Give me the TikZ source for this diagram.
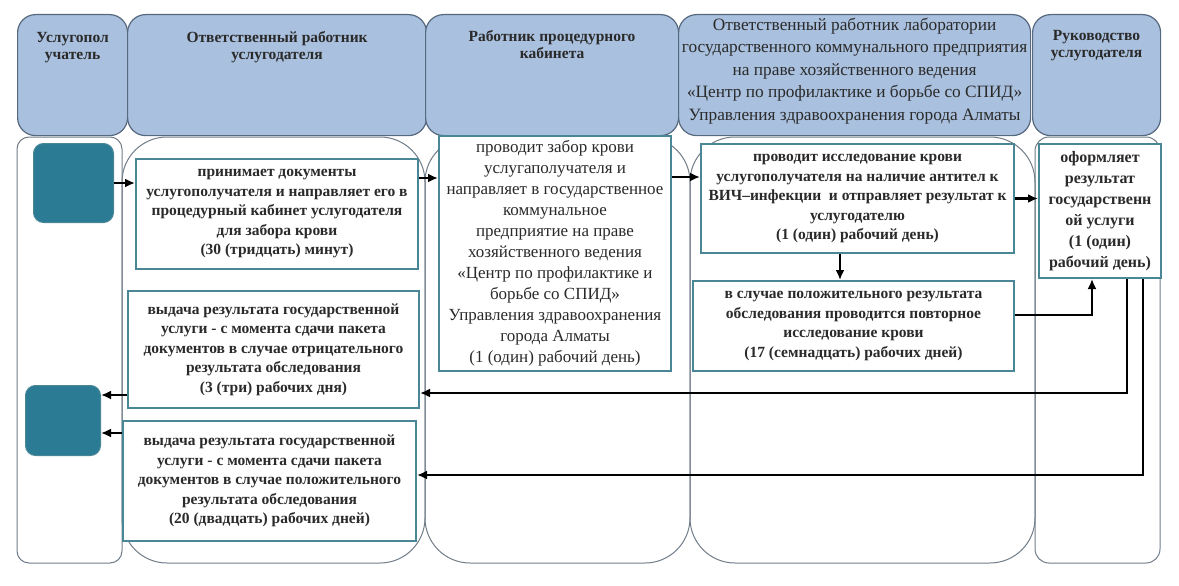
\documentclass[tikz,border=0pt]{standalone}
\usepackage{fontspec}
\setmainfont{Liberation Serif}
\usetikzlibrary{arrows.meta}
\definecolor{hdrfill}{HTML}{A9C0DE}
\definecolor{hdrline}{HTML}{56697F}
\definecolor{tealbox}{HTML}{2C7B94}
\definecolor{boxline}{HTML}{4A8796}
\definecolor{laneline}{HTML}{707C88}
\definecolor{txt}{HTML}{2A2A2A}
\begin{document}
\begin{tikzpicture}[>={Latex[length=10pt,width=9pt]}, x=1pt, y=-1pt,
    hdr/.style={draw=hdrline, fill=hdrfill, line width=1.2pt, rounded corners=18pt,
        anchor=north west, minimum height=121pt, inner sep=0pt},
    hdrtxt/.style={text=txt, align=center, inner sep=0pt, font=\fontsize{15.5}{17.5}\selectfont\bfseries},
    lane/.style={draw=laneline, line width=1pt},
    tealnode/.style={draw=boxline, fill=tealbox, line width=1pt, rounded corners=10pt,
        anchor=north west, inner sep=0pt},
    procbox/.style={draw=boxline, fill=white, line width=2pt, anchor=north west,
        inner sep=0pt, align=center, text=txt, font=\fontsize{15.5}{19.5}\selectfont\bfseries},
    flow/.style={->, line width=2.2pt}]
\useasboundingbox (0,0) rectangle (1179,586);

% lanes
\draw[lane, rounded corners=12pt] (17,137) rectangle (122,563);
\draw[lane, rounded corners=45pt] (122,137) rectangle (425,563);
\draw[lane, rounded corners=45pt] (425,137) rectangle (690,563);
\draw[lane, rounded corners=45pt] (690,137) rectangle (1035,563);
\draw[lane, rounded corners=14pt] (1035,137) rectangle (1160,563);

% headers
\node[hdr, minimum width=110pt] (h1) at (17,14) {};
\node[hdr, minimum width=299pt] (h2) at (127,14) {};
\node[hdr, minimum width=253pt] (h3) at (425,14) {};
\node[hdr, minimum width=352pt] (h4) at (678,14) {};
\node[hdr, minimum width=128pt] (h5) at (1032,14) {};
\node[hdrtxt, anchor=north] (h1t) at ([yshift=-18pt]h1.north) {Услугопол\\учатель};
\node[hdrtxt, anchor=north] (h2t) at ([yshift=-17pt]h2.north) {Ответственный работник\\услугодателя};
\node[hdrtxt, anchor=north] (h3t) at ([yshift=-16pt]h3.north) {Работник процедурного\\кабинета};
\node[hdrtxt, anchor=center, font=\fontsize{17.3}{22.5}\selectfont] (h4t) at ([yshift=4pt]h4.center)
    {Ответственный работник лаборатории\\государственного коммунального предприятия\\на праве хозяйственного ведения\\«Центр по профилактике и борьбе со СПИД»\\Управления здравоохранения города Алматы};
\node[hdrtxt, anchor=north] (h5t) at ([yshift=-16pt]h5.north) {Руководство\\услугодателя};

% steps
\node[tealnode, minimum width=80pt, minimum height=79pt] (t1) at (33,143) {};
\node[tealnode, minimum width=75pt, minimum height=70pt] (t2) at (25,385) {};

\node[procbox, minimum width=282pt, minimum height=110pt] (b1) at (135,158)
    {принимает документы\\услугополучателя и направляет его в\\процедурный кабинет услугодателя\\для забора крови\\(30 (тридцать) минут)};
\node[procbox, minimum width=291pt, minimum height=117pt] (b2) at (127,290)
    {выдача результата государственной\\услуги - с момента сдачи пакета\\документов в случае отрицательного\\результата обследования\\(3 (три) рабочих дня)};
\node[procbox, minimum width=293pt, minimum height=120pt] (b3) at (122,420)
    {выдача результата государственной\\услуги - с момента сдачи пакета\\документов в случае положительного\\результата обследования\\(20 (двадцать) рабочих дней)};
\node[procbox, minimum width=232pt, minimum height=235pt, font=\fontsize{17}{21}\selectfont] (p) at (438,135)
    {проводит забор крови\\услугаполучателя и\\направляет в государственное\\коммунальное\\предприятие на праве\\хозяйственного ведения\\«Центр по профилактике и\\борьбе со СПИД»\\Управления здравоохранения\\города Алматы\\(1 (один) рабочий день)};
\node[procbox, minimum width=313pt, minimum height=109pt] (l1) at (700,143)
    {проводит исследование крови\\услугополучателя на наличие антител к\\ВИЧ–инфекции~ и отправляет результат к\\услугодателю\\(1 (один) рабочий день)};
\node[procbox, minimum width=321pt, minimum height=90pt] (l2) at (692,280)
    {в случае положительного результата\\обследования проводится повторное\\исследование крови\\(17 (семнадцать) рабочих дней)};
\node[procbox, minimum width=122pt, minimum height=134pt, font=\fontsize{16}{21}\selectfont\bfseries] (r) at (1038,143)
    {оформляет\\результат\\государственн\\ой услуги\\(1 (один)\\рабочий день)};

% arrows
\draw[flow] (t1.east) -- (t1.east -| b1.west);
\draw[flow] (b1.east |- 0,178) -- (p.west |- 0,178);
\draw[flow] (p.east |- 0,177) -- (l1.west |- 0,177);
\draw[flow] (l1.south -| 840,0) -- (l2.north -| 840,0);
\draw[flow] (l1.east) -- (l1.east -| r.west);
\draw[flow] (l2.east |- 0,315) -| (r.south -| 1092,0);
\draw[flow] (r.south -| 1127,0) |- (b2.east |- 0,393);
\draw[flow] (r.south -| 1143,0) |- (b3.east |- 0,475);
\draw[flow] (b2.west |- 0,395) -- (t2.east |- 0,395);
\draw[flow] (b3.west |- 0,433) -- (t2.east |- 0,433);
\end{tikzpicture}
\end{document}
